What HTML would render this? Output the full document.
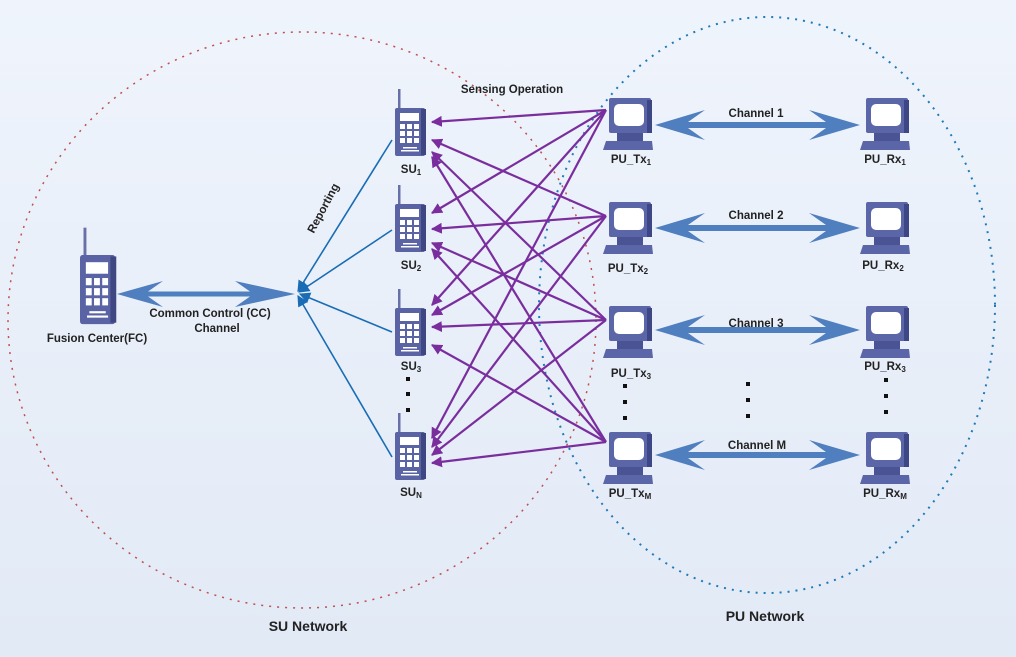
<!DOCTYPE html>
<html><head><meta charset="utf-8"><style>
html,body{margin:0;padding:0}
body{width:1016px;height:657px;overflow:hidden;background:linear-gradient(#eff4fc,#e2eaf6)}
svg{display:block}
text{font-family:"Liberation Sans",sans-serif;fill:#222;font-weight:bold}
</style></head><body>
<svg width="1016" height="657" viewBox="0 0 1016 657" xmlns="http://www.w3.org/2000/svg">
<defs>
<marker id="pa" viewBox="0 0 10 10" refX="9" refY="5" markerWidth="5" markerHeight="5" orient="auto" markerUnits="strokeWidth"><path d="M0,0L10,5L0,10z" fill="#7a2e9e"/></marker>
<marker id="ba" viewBox="0 0 10 10" refX="9" refY="5" markerWidth="7" markerHeight="7" orient="auto" markerUnits="strokeWidth"><path d="M0,0L10,5L0,10z" fill="#1a6db5"/></marker>
<g id="ph">
<rect x="3" y="-19" width="2.5" height="20" fill="#6870a8"/>
<rect x="0" y="0" width="30" height="48" rx="2" fill="#5a63a3"/>
<rect x="26" y="1" width="5" height="46" fill="#3f4782"/>
<rect x="5" y="5" width="19" height="8" fill="#fff"/>
<g fill="#fff">
<rect x="5" y="16" width="5" height="5"/><rect x="12" y="16" width="5" height="5"/><rect x="19" y="16" width="5" height="5"/>
<rect x="5" y="23" width="5" height="5"/><rect x="12" y="23" width="5" height="5"/><rect x="19" y="23" width="5" height="5"/>
<rect x="5" y="30" width="5" height="5"/><rect x="12" y="30" width="5" height="5"/><rect x="19" y="30" width="5" height="5"/>
<rect x="8" y="39" width="14" height="1.5"/><rect x="6" y="42" width="18" height="1.5"/>
</g>
</g>
<g id="mon">
<rect x="6" y="0" width="42" height="35" rx="2" fill="#5b66a8"/>
<rect x="44" y="2" width="5" height="33" fill="#3e4785"/>
<rect x="11" y="6" width="30" height="22" rx="5" fill="#fff"/>
<rect x="14" y="35" width="26" height="8" fill="#4a5495"/>
<path d="M3,43H49L50,52H0z" fill="#5b66a8"/>
</g>
</defs>
<ellipse cx="302" cy="320" rx="294" ry="288" fill="none" stroke="#c0504d" stroke-width="1.5" stroke-dasharray="2 6"/>
<ellipse cx="767" cy="305" rx="228" ry="288" fill="none" stroke="#1f7ab8" stroke-width="2" stroke-dasharray="2 6"/>

<g stroke="#1a6db5" stroke-width="1.6" marker-end="url(#ba)">
<line x1="392" y1="140" x2="298" y2="291"/>
<line x1="392" y1="230" x2="299" y2="292"/>
<line x1="392" y1="332" x2="300" y2="294"/>
<line x1="392" y1="457" x2="298" y2="296"/>
</g>

<path d="M117,294L163,281L148,291.5L250,291.5L235,281L295,294L235,307L250,296.5L148,296.5L163,307z" fill="#4f7fbf"/>

<g fill="#4f7fbf">
<path d="M655,125L705,110L688,122L826,122L809,110L860,125L809,140L826,128L688,128L705,140z"/>
<path d="M655,228L705,213L688,225L826,225L809,213L860,228L809,243L826,231L688,231L705,243z"/>
<path d="M655,330L705,315L688,327L826,327L809,315L860,330L809,345L826,333L688,333L705,345z"/>
<path d="M655,455L705,440L688,452L826,452L809,440L860,455L809,470L826,458L688,458L705,470z"/>
</g>

<g stroke="#7a2e9e" stroke-width="2.2" marker-end="url(#pa)">
<line x1="606" y1="110" x2="432" y2="122"/>
<line x1="606" y1="216" x2="432" y2="140"/>
<line x1="606" y1="320" x2="432" y2="152"/>
<line x1="606" y1="442" x2="432" y2="157"/>
<line x1="606" y1="110" x2="432" y2="213"/>
<line x1="606" y1="216" x2="432" y2="229"/>
<line x1="606" y1="320" x2="432" y2="243"/>
<line x1="606" y1="442" x2="432" y2="249"/>
<line x1="606" y1="110" x2="432" y2="305"/>
<line x1="606" y1="216" x2="432" y2="315"/>
<line x1="606" y1="320" x2="432" y2="327"/>
<line x1="606" y1="442" x2="432" y2="345"/>
<line x1="606" y1="110" x2="432" y2="438"/>
<line x1="606" y1="216" x2="432" y2="447"/>
<line x1="606" y1="320" x2="432" y2="455"/>
<line x1="606" y1="442" x2="432" y2="463"/>
</g>

<use href="#ph" transform="translate(395,108)"/>
<use href="#ph" transform="translate(395,204)"/>
<use href="#ph" transform="translate(395,308)"/>
<use href="#ph" transform="translate(395,432)"/>
<use href="#ph" transform="translate(80,255) scale(1.17,1.44)"/>

<use href="#mon" transform="translate(603,98)"/>
<use href="#mon" transform="translate(603,202)"/>
<use href="#mon" transform="translate(603,306)"/>
<use href="#mon" transform="translate(603,432)"/>
<use href="#mon" transform="translate(860,98)"/>
<use href="#mon" transform="translate(860,202)"/>
<use href="#mon" transform="translate(860,306)"/>
<use href="#mon" transform="translate(860,432)"/>

<g fill="#111">
<rect x="406" y="377" width="4" height="4"/><rect x="406" y="392" width="4" height="4"/><rect x="406" y="408" width="4" height="4"/>
<rect x="623" y="384" width="4" height="4"/><rect x="623" y="400" width="4" height="4"/><rect x="623" y="416" width="4" height="4"/>
<rect x="746" y="382" width="4" height="4"/><rect x="746" y="398" width="4" height="4"/><rect x="746" y="414" width="4" height="4"/>
<rect x="884" y="378" width="4" height="4"/><rect x="884" y="394" width="4" height="4"/><rect x="884" y="410" width="4" height="4"/>
</g>

<g font-size="11.5" text-anchor="middle">
<text x="411" y="173">SU<tspan font-size="8" dy="2">1</tspan></text>
<text x="411" y="269">SU<tspan font-size="8" dy="2">2</tspan></text>
<text x="411" y="370">SU<tspan font-size="8" dy="2">3</tspan></text>
<text x="411" y="496">SU<tspan font-size="8" dy="2">N</tspan></text>
<text x="631" y="163">PU_Tx<tspan font-size="8" dy="2">1</tspan></text>
<text x="628" y="272">PU_Tx<tspan font-size="8" dy="2">2</tspan></text>
<text x="631" y="377">PU_Tx<tspan font-size="8" dy="2">3</tspan></text>
<text x="630" y="497">PU_Tx<tspan font-size="8" dy="2">M</tspan></text>
<text x="885" y="163">PU_Rx<tspan font-size="8" dy="2">1</tspan></text>
<text x="883" y="269">PU_Rx<tspan font-size="8" dy="2">2</tspan></text>
<text x="885" y="370">PU_Rx<tspan font-size="8" dy="2">3</tspan></text>
<text x="885" y="497">PU_Rx<tspan font-size="8" dy="2">M</tspan></text>
<text x="756" y="117">Channel 1</text>
<text x="756" y="219">Channel 2</text>
<text x="756" y="327">Channel 3</text>
<text x="757" y="449">Channel M</text>
<text x="512" y="93">Sensing Operation</text>
<text x="210" y="317">Common Control (CC)</text>
<text x="217" y="332">Channel</text>
<text x="97" y="342">Fusion Center(FC)</text>
<text x="323" y="212" transform="rotate(-62 323 208)">Reporting</text>
</g>
<text x="308" y="631" font-size="14" text-anchor="middle">SU Network</text>
<text x="765" y="621" font-size="14" text-anchor="middle">PU Network</text>
</svg>
</body></html>
